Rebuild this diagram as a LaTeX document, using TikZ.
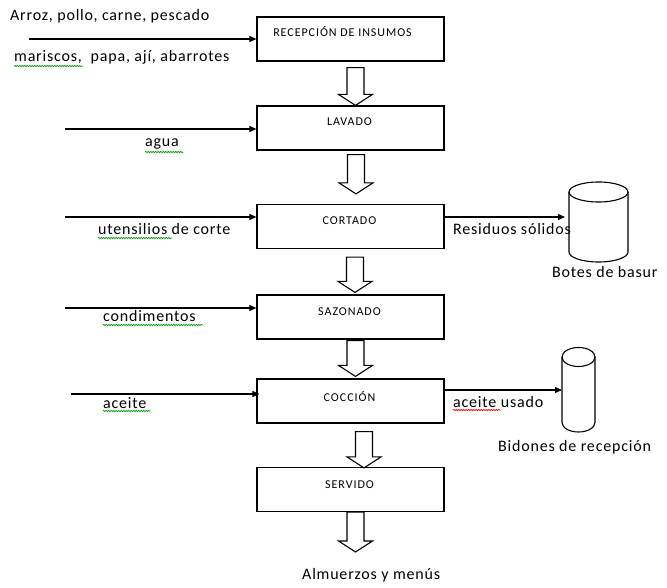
\documentclass[tikz,border=0pt]{standalone}
\usepackage{fontspec}
\setmainfont{Carlito}[LetterSpace=5]
\newfontfamily\boxfont{Carlito}[LetterSpace=8]
\usetikzlibrary{arrows.meta,calc,decorations.pathmorphing}
\newcommand{\flecha}[4]{%
  \draw[blockarrow] let \p1=(#1.south), \p2=(#2) in
   (\x1+#3pt-8.5pt,\y1-#4pt) -- (\x1+#3pt+8.5pt,\y1-#4pt) -- (\x1+#3pt+8.5pt,\y2+11pt)
   -- (\x1+#3pt+17pt,\y2+11pt) -- (\x1+#3pt,\y2) -- (\x1+#3pt-17pt,\y2+11pt)
   -- (\x1+#3pt-8.5pt,\y2+11pt) -- cycle;}
\begin{document}
\begin{tikzpicture}[x=1pt,y=-1pt,
  every node/.style={inner sep=0pt, font=\fontsize{16}{19}\selectfont},
  proc/.style={draw, line width=1.2pt, minimum width=187pt, minimum height=44pt, fill=white},
  boxlbl/.style={font=\boxfont\fontsize{12}{14}\selectfont},
  txt/.style={anchor=west},
  inarrow/.style={line width=1.1pt, -{Triangle[length=7pt,width=6pt]}},
  blockarrow/.style={draw, line width=1.1pt, fill=white, line join=miter},
  spell/.style={draw=green!60!black, line width=0.7pt, decorate,
    decoration={snake, amplitude=0.7pt, segment length=2.5pt}},
  spellred/.style={spell, draw=red},
  cyl/.style={line width=1.1pt, fill=white}]

\useasboundingbox (0,0) rectangle (667,588);

% process boxes
\node[proc] (b1) at (350.5,39) {};
\node[proc] (b2) at (350.5,128) {};
\node[proc] (b3) at (350.5,226.5) {};
\node[proc] (b4) at (350.5,317) {};
\node[proc] (b5) at (350.5,401) {};
\node[proc] (b6) at (350.5,489.5) {};

\node[boxlbl] (l1) at ($(b1.north)+(-8,15)$) {RECEPCIÓN DE INSUMOS};
\node[boxlbl] (l2) at ($(b2.north)+(-1,16)$) {LAVADO};
\node[boxlbl] (l3) at ($(b3.north)+(-1,17)$) {CORTADO};
\node[boxlbl] (l4) at ($(b4.north)+(-1,17)$) {SAZONADO};
\node[boxlbl] (l5) at ($(b5.north)+(-1,18)$) {COCCIÓN};
\node[boxlbl] (l6) at ($(b6.north)+(-1,18)$) {SERVIDO};

% block arrows between boxes
\coordinate (out) at (355.5,552);
\flecha{b1}{b2.north}{5}{6}
\flecha{b2}{$(b3.north)+(0,-10)$}{5.5}{4}
\flecha{b3}{$(b4.north)+(0,-2)$}{4.5}{8}
\flecha{b4}{$(b5.north)+(0,-2)$}{5}{1}
\flecha{b5}{$(b6.north)+(0,1)$}{13.5}{8}
\flecha{b6}{out}{5}{0}

% inputs
\coordinate (i1) at (29,39);
\coordinate (i2) at (65,129);
\coordinate (i3) at (65,217);
\coordinate (i4) at (65,308);
\coordinate (i5) at (71,394);
\draw[inarrow] (i1) -- (i1 -| b1.west);
\draw[inarrow] (i2) -- (i2 -| b2.west);
\draw[inarrow] (i3) -- (i3 -| b3.west);
\draw[inarrow] (i4) -- (i4 -| b4.west);
\draw[inarrow] (i5) -- ($(i5 -| b5.west)+(3,0)$);

\node[txt] (t1a) at (10,16) {Arroz, pollo, carne, pescado};
\node[txt] (t1b) at (14,57) {mariscos,\ \ papa, ají, abarrotes};
\node[txt] (t2) at (145,144) {agua};
\node[txt] (t3) at (98,229) {utensilios de corte};
\node[txt] (t4) at (103,316) {condimentos};
\node[txt] (t5) at (103,403) {aceite};

\draw[spell] (14,66) -- (83,66);
\draw[spell] (145,152) -- (183,152);
\draw[spell] (98,238) -- (172,238);
\draw[spell] (103,325) -- (203,325);
\draw[spell] (103,411) -- (150,411);

% containers
\coordinate (c1) at (569,217);
\draw[cyl] (569,192) -- (569,252) arc[start angle=180,end angle=360,x radius=29.5pt,y radius=10pt]
  -- (628,192) arc[start angle=0,end angle=180,x radius=29.5pt,y radius=10pt] -- cycle;
\draw[line width=1.1pt] (569,192) arc[start angle=180,end angle=360,x radius=29.5pt,y radius=10pt];

\coordinate (c2) at (562,390);
\draw[cyl] (562,357) -- (562,422.5) arc[start angle=180,end angle=360,x radius=16.5pt,y radius=9.5pt]
  -- (595,357) arc[start angle=0,end angle=180,x radius=16.5pt,y radius=9.5pt] -- cycle;
\draw[line width=1.1pt] (562,357) arc[start angle=180,end angle=360,x radius=16.5pt,y radius=9.5pt];

% outputs
\draw[inarrow] (c1 -| b3.east) -- ($(c1)+(-4,0)$);
\draw[inarrow] (c2 -| b5.east) -- (c2);

\node[txt] (o1) at (453,229) {Residuos sólidos};
\node[txt] (o1b) at (552,272) {Botes de basur};
\node[txt] (o2) at (453,402) {aceite usado};
\node[txt] (o2b) at (498,447) {Bidones de recepción};
\draw[spellred] (453,410) -- (500,410);

\node[txt] (fin) at (302,575) {Almuerzos y menús};
\end{tikzpicture}
\end{document}
